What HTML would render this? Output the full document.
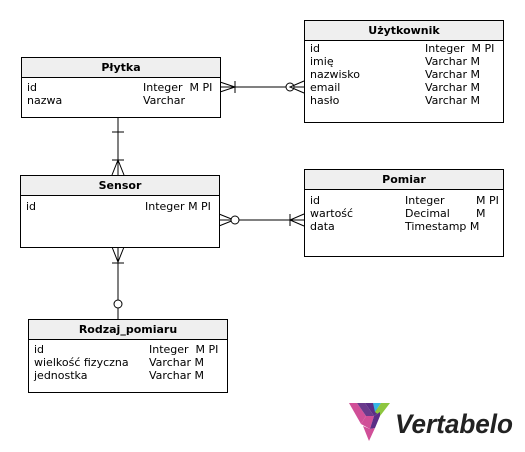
<!DOCTYPE html>
<html><head><meta charset="utf-8"><style>
body{margin:0;background:#fff;width:525px;height:452px;overflow:hidden;position:relative;font-family:"DejaVu Sans","Liberation Sans",sans-serif;font-size:11px;color:#000}
.t{position:absolute;border:1px solid #000;background:#fff;box-sizing:border-box}
.h{height:20px;background:#efefef;border-bottom:1px solid #000;box-sizing:border-box;text-align:center;font-weight:bold;line-height:19px}
.r{position:relative;height:13px;line-height:13px;white-space:pre}
.r span{position:absolute;top:0}
svg{position:absolute;left:0;top:0}
</style></head><body>
<svg width="525" height="452" fill="none" stroke="#000" stroke-width="1">
<line x1="220" y1="87" x2="304" y2="87"/>
<polyline points="220,82 235,87 220,92"/><line x1="235" y1="81" x2="235" y2="93"/>
<circle cx="290" cy="87" r="4" fill="#fff"/><polyline points="304,81 290,87 304,93"/>
<line x1="118" y1="117" x2="118" y2="175"/>
<line x1="112" y1="132" x2="124" y2="132"/><line x1="112" y1="160" x2="124" y2="160"/>
<polyline points="112,175 118,160 124,175"/>
<line x1="219" y1="220" x2="304" y2="220"/>
<polyline points="219,214 234,220 219,226"/><circle cx="235" cy="220" r="4" fill="#fff"/>
<line x1="290" y1="214" x2="290" y2="226"/><polyline points="304,214 290,220 304,226"/>
<line x1="118" y1="247" x2="118" y2="319"/>
<polyline points="112,247 118,262 124,247"/><line x1="112" y1="263" x2="124" y2="263"/>
<circle cx="118" cy="304" r="4" fill="#fff"/>
</svg>
<div class="t" style="left:21px;top:57px;width:200px;height:61px"><div class="h">Płytka</div>
<div class="r" style="margin-top:3px"><span style="left:5px">id</span><span style="left:121px">Integer  M PI</span></div>
<div class="r"><span style="left:5px">nazwa</span><span style="left:121px">Varchar</span></div></div>
<div class="t" style="left:304px;top:20px;width:200px;height:103px"><div class="h">Użytkownik</div>
<div class="r" style="margin-top:1px"><span style="left:5px">id</span><span style="left:120px">Integer  M PI</span></div>
<div class="r"><span style="left:5px">imię</span><span style="left:120px">Varchar M</span></div>
<div class="r"><span style="left:5px">nazwisko</span><span style="left:120px">Varchar M</span></div>
<div class="r"><span style="left:5px">email</span><span style="left:120px">Varchar M</span></div>
<div class="r"><span style="left:5px">hasło</span><span style="left:120px">Varchar M</span></div></div>
<div class="t" style="left:20px;top:175px;width:200px;height:73px"><div class="h">Sensor</div>
<div class="r" style="margin-top:4px"><span style="left:5px">id</span><span style="left:124px">Integer M PI</span></div></div>
<div class="t" style="left:304px;top:169px;width:200px;height:88px"><div class="h">Pomiar</div>
<div class="r" style="margin-top:4px"><span style="left:5px">id</span><span style="left:100px">Integer</span><span style="left:171px">M PI</span></div>
<div class="r"><span style="left:5px">wartość</span><span style="left:100px">Decimal</span><span style="left:171px">M</span></div>
<div class="r"><span style="left:5px">data</span><span style="left:100px">Timestamp M</span></div></div>
<div class="t" style="left:28px;top:319px;width:200px;height:74px"><div class="h">Rodzaj_pomiaru</div>
<div class="r" style="margin-top:3px"><span style="left:5px">id</span><span style="left:120px">Integer  M PI</span></div>
<div class="r"><span style="left:5px">wielkość fizyczna</span><span style="left:120px">Varchar M</span></div>
<div class="r"><span style="left:5px">jednostka</span><span style="left:120px">Varchar M</span></div></div>
<svg width="525" height="452" style="left:0;top:0">
<polygon points="349,403 357,403 366,416 361,424" fill="#d04f98"/>
<polygon points="357,403 365,403 374,416 366,416" fill="#6a3a8c"/>
<polygon points="365,403 373,403 380,412 374,416" fill="#5b2d86"/>
<polygon points="373,403 381,403 375,412" fill="#36b5e6"/>
<polygon points="381,403 390,403 380,416 375,412" fill="#8dc63f"/>
<polygon points="361,424 366,416 374,416 370,429" fill="#d04f98"/>
<polygon points="374,416 380,412 380,416 375,428 370,429" fill="#5b2d86"/>
<polygon points="363,426 370,429 375,428 369,441" fill="#d04f98"/>
<text x="395" y="433" font-family="Liberation Sans, sans-serif" font-weight="bold" font-style="italic" font-size="27" fill="#222" textLength="118" lengthAdjust="spacingAndGlyphs">Vertabelo</text>
</svg>
</body></html>
